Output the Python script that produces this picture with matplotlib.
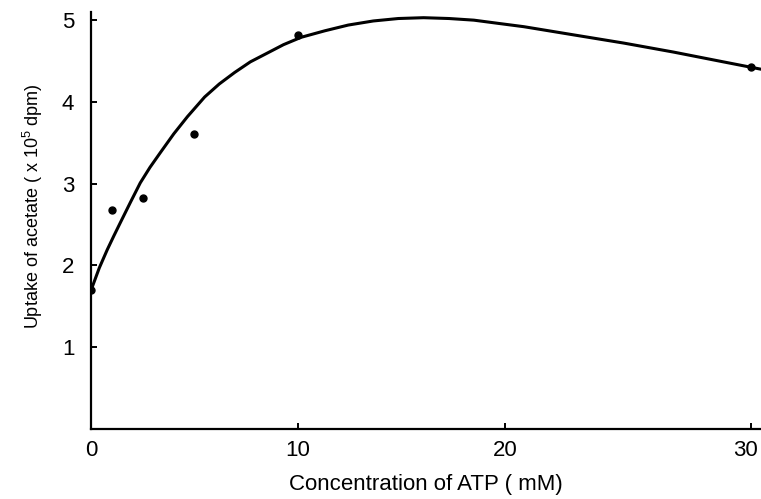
import numpy as np
import matplotlib
matplotlib.use('Agg')
import matplotlib.pyplot as plt
import matplotlib.transforms as mtrans

# measured points: ATP concentration (mM) vs acetate uptake (x 10^5 dpm)
atp_mM = [0, 1, 2.5, 5, 10, 30]
uptake = [1.70, 2.68, 2.82, 3.61, 4.82, 4.43]

# hand-drawn fitted curve
curve_x = [0.05, 0.40, 0.78, 1.10, 1.41, 1.90, 2.38, 2.85, 3.35, 4.00, 4.66,
           5.49, 6.20, 6.94, 7.70, 8.54, 9.30, 10.15, 11.30, 12.43, 13.64,
           14.85, 16.07, 17.30, 18.50, 19.70, 20.77, 22.79, 24.82, 26.84,
           28.87, 30.4]
curve_y = [1.73, 1.97, 2.19, 2.36, 2.52, 2.77, 3.01, 3.20, 3.38, 3.61, 3.82,
           4.06, 4.22, 4.36, 4.49, 4.60, 4.70, 4.79, 4.87, 4.94, 4.99,
           5.02, 5.03, 5.02, 5.00, 4.96, 4.92, 4.82, 4.72, 4.61,
           4.49, 4.40]

xticks = [0, 10, 20, 30]
yticks = [1, 2, 3, 4, 5]

plt.rcParams['font.family'] = ['Liberation Sans', 'DejaVu Sans']
plt.rcParams['mathtext.fontset'] = 'custom'
plt.rcParams['mathtext.rm'] = 'Liberation Sans'
plt.rcParams['mathtext.default'] = 'regular'

# the original axis is drawn by hand: the 20-30 stretch is wider than 0-20
stretch = 1.19
def fwd(x):
    x = np.asarray(x, dtype=float)
    return np.where(x <= 20, x, 20 + (x - 20) * stretch)
def inv(t):
    t = np.asarray(t, dtype=float)
    return np.where(t <= 20, t, 20 + (t - 20) / stretch)

fig = plt.figure(figsize=(7.61, 4.99), dpi=100)
ax = fig.add_axes([0.1196, 0.1403, 0.8804, 0.8357])
ax.set_xscale('function', functions=(fwd, inv))

ax.plot(curve_x, curve_y, '-', color='black', lw=2.2, solid_capstyle='round')
ax.plot(atp_mM, uptake, 'o', color='black', ms=5)

ax.set_xlim(0, 30.4)
ax.set_ylim(0, 5.1)
ax.set_xticks(xticks)
ax.set_yticks(yticks)
ax.set_xticklabels([str(v) for v in xticks])
ax.set_yticklabels([str(v) for v in yticks])

for s in ['top', 'right']:
    ax.spines[s].set_visible(False)
for s in ['left', 'bottom']:
    ax.spines[s].set_linewidth(1.6)

ax.tick_params(axis='both', direction='in', length=4, width=1.4, labelsize=16)
ax.tick_params(axis='y', pad=12)
ax.tick_params(axis='x', pad=8)

# last x label sits against the right edge in the original
lab30 = ax.get_xticklabels()[-1]
lab30.set_transform(lab30.get_transform() + mtrans.ScaledTranslation(-4/72, 0, fig.dpi_scale_trans))

ax.set_xlabel('Concentration of ATP ( mM)', fontsize=16, labelpad=9)
ax.set_ylabel(r'Uptake of acetate ( x 10$^{5}$ dpm)', fontsize=13)
ax.yaxis.set_label_coords(-0.069, 0.535)

fig.savefig('out.png', dpi=100)
